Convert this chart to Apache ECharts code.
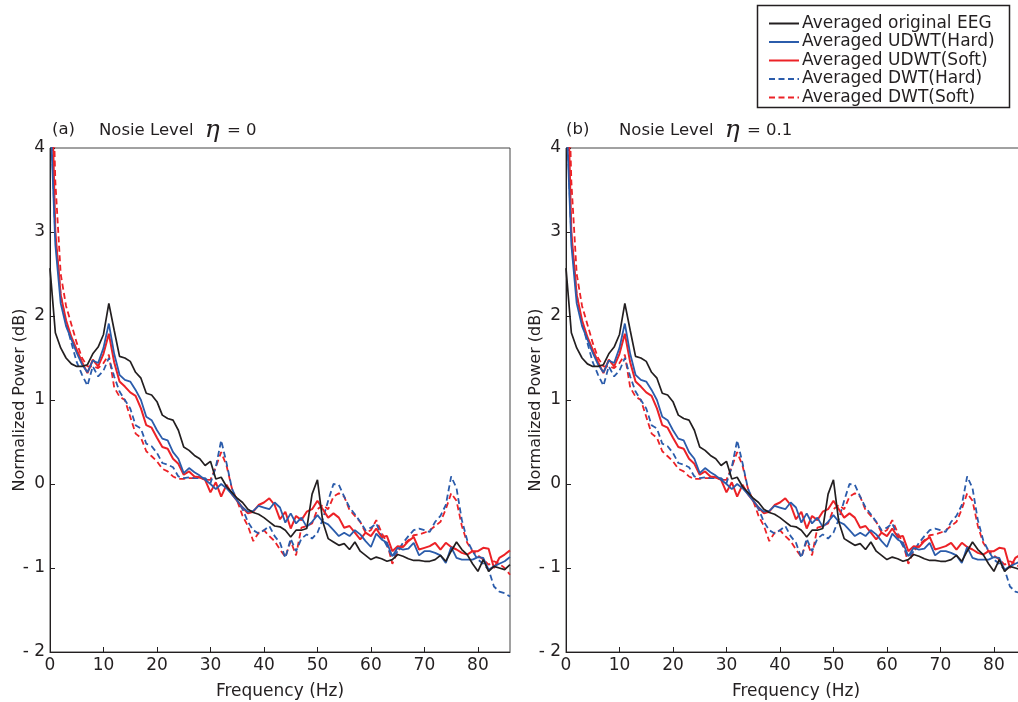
<!DOCTYPE html>
<html><head><meta charset="utf-8">
<script src="https://cdn.jsdelivr.net/npm/echarts@6/dist/echarts.min.js"></script>
<style>html,body{margin:0;padding:0;background:#fff}#c{width:1018px;height:702px}</style>
</head><body><div id="c"></div>
<script>
// Frequency bins (Hz)
const freqHz = [0,1,2,3,4,5,6,7,8,9,10,11,12,13,14,15,16,17,18,19,20,21,22,23,24,25,26,27,28,29,30,31,32,33,34,35,36,37,38,39,40,41,42,43,44,45,46,47,48,49,50,51,52,53,54,55,56,57,58,59,60,61,62,63,64,65,66,67,68,69,70,71,72,73,74,75,76,77,78,79,80,81,82,83,84,85,86];
const xTicks = [0,10,20,30,40,50,60,70,80];
const yTicks = [-2,-1,0,1,2,3,4];

const originalEEG = [2.57,1.80,1.62,1.50,1.43,1.40,1.40,1.42,1.55,1.63,1.78,2.15,1.83,1.52,1.50,1.46,1.33,1.26,1.08,1.06,0.98,0.82,0.78,0.76,0.64,0.44,0.40,0.34,0.30,0.22,0.27,0.06,0.08,-0.03,-0.10,-0.17,-0.22,-0.30,-0.34,-0.36,-0.40,-0.45,-0.50,-0.51,-0.55,-0.63,-0.55,-0.55,-0.53,-0.12,0.05,-0.45,-0.65,-0.69,-0.73,-0.71,-0.78,-0.69,-0.80,-0.85,-0.90,-0.87,-0.89,-0.92,-0.90,-0.84,-0.86,-0.89,-0.91,-0.91,-0.92,-0.92,-0.90,-0.85,-0.92,-0.80,-0.69,-0.78,-0.84,-0.95,-1.04,-0.90,-1.04,-0.98,-1.00,-1.02,-0.96];
const udwtHard = [4.5,2.85,2.15,1.88,1.72,1.56,1.42,1.33,1.47,1.44,1.62,1.91,1.55,1.30,1.24,1.22,1.12,1.00,0.80,0.76,0.64,0.54,0.52,0.38,0.30,0.13,0.19,0.14,0.10,0.05,0.00,-0.06,0.00,-0.05,-0.12,-0.20,-0.28,-0.33,-0.32,-0.26,-0.28,-0.30,-0.22,-0.28,-0.46,-0.35,-0.47,-0.40,-0.51,-0.45,-0.37,-0.45,-0.48,-0.55,-0.62,-0.58,-0.62,-0.55,-0.60,-0.68,-0.75,-0.59,-0.66,-0.70,-0.86,-0.76,-0.78,-0.77,-0.70,-0.85,-0.80,-0.80,-0.82,-0.85,-0.94,-0.75,-0.88,-0.90,-0.90,-0.90,-0.87,-0.88,-1.02,-0.98,-0.95,-0.92,-0.87];
const udwtSoft = [5.5,3.00,2.25,1.95,1.75,1.60,1.45,1.32,1.48,1.40,1.55,1.79,1.45,1.22,1.16,1.09,1.05,0.90,0.70,0.67,0.55,0.44,0.42,0.30,0.24,0.11,0.15,0.09,0.08,0.05,-0.10,0.02,-0.15,-0.01,-0.12,-0.20,-0.28,-0.35,-0.33,-0.25,-0.22,-0.17,-0.25,-0.42,-0.33,-0.53,-0.38,-0.43,-0.33,-0.30,-0.20,-0.30,-0.40,-0.35,-0.40,-0.52,-0.50,-0.58,-0.66,-0.58,-0.62,-0.53,-0.63,-0.62,-0.80,-0.74,-0.75,-0.68,-0.63,-0.78,-0.76,-0.74,-0.70,-0.78,-0.70,-0.75,-0.78,-0.82,-0.84,-0.80,-0.80,-0.76,-0.77,-1.00,-0.88,-0.84,-0.79];
const dwtHard = [4.6,2.95,2.25,1.92,1.68,1.45,1.30,1.17,1.40,1.28,1.35,1.50,1.28,1.10,1.00,0.90,0.70,0.66,0.48,0.45,0.37,0.25,0.23,0.20,0.09,0.07,0.08,0.07,0.07,0.07,0.01,0.20,0.52,0.25,-0.05,-0.20,-0.30,-0.45,-0.55,-0.59,-0.55,-0.50,-0.62,-0.70,-0.88,-0.65,-0.80,-0.65,-0.60,-0.65,-0.58,-0.42,-0.20,0.00,-0.01,-0.15,-0.28,-0.36,-0.45,-0.55,-0.52,-0.47,-0.62,-0.74,-0.87,-0.80,-0.70,-0.62,-0.55,-0.53,-0.55,-0.57,-0.45,-0.38,-0.25,0.09,-0.05,-0.43,-0.67,-0.80,-0.90,-0.95,-1.02,-1.22,-1.28,-1.30,-1.34];
const dwtSoft = [6.0,3.60,2.50,2.12,1.90,1.68,1.50,1.40,1.40,1.38,1.44,1.54,1.15,1.04,1.00,0.80,0.60,0.55,0.39,0.33,0.27,0.18,0.15,0.09,0.06,0.06,0.07,0.07,0.08,0.05,0.05,0.20,0.38,0.22,-0.05,-0.20,-0.38,-0.50,-0.68,-0.58,-0.55,-0.62,-0.68,-0.78,-0.87,-0.68,-0.85,-0.52,-0.50,-0.47,-0.30,-0.25,-0.30,-0.15,-0.11,-0.15,-0.31,-0.38,-0.45,-0.58,-0.55,-0.43,-0.58,-0.70,-0.95,-0.80,-0.72,-0.67,-0.61,-0.60,-0.58,-0.55,-0.50,-0.45,-0.30,-0.11,-0.20,-0.50,-0.70,-0.80,-0.85,-0.90,-0.96,-0.92,-0.95,-1.00,-1.08];

const seriesNames = ['Averaged original EEG','Averaged UDWT(Hard)','Averaged UDWT(Soft)','Averaged DWT(Hard)','Averaged DWT(Soft)'];
const panelA = [originalEEG, udwtHard, udwtSoft, dwtHard, dwtSoft];
const panelB = [originalEEG, udwtHard, udwtSoft, dwtHard, dwtSoft];

const FONT = 'DejaVu Sans';
const TXT = '#231f20';
const looks = [
  {color:'#231f20', type:'solid', width:1.7},
  {color:'#2b5cab', type:'solid', width:1.8},
  {color:'#ec2227', type:'solid', width:2.0},
  {color:'#2b5cab', type:[6,3.5], width:1.8},
  {color:'#ec2227', type:[6,3.5], width:1.8}
];

function pairs(vals){ return vals.map((v,i)=>[freqHz[i], v]); }

function xAxis(gi){
  return {type:'value', gridIndex:gi, min:0, max:86, interval:10,
    name:'Frequency (Hz)', nameLocation:'middle', nameGap:31, nameMoveOverlap:false,
    nameTextStyle:{fontFamily:FONT, fontSize:17, color:TXT},
    axisLine:{show:true, onZero:false, lineStyle:{color:'#231f20', width:1}},
    axisTick:{show:true, inside:true, length:5, lineStyle:{color:'#231f20'}},
    axisLabel:{fontFamily:FONT, fontSize:17, color:TXT, margin:5, showMaxLabel:false,
      formatter:v=> xTicks.includes(v) ? String(v) : ''},
    splitLine:{show:false}};
}
function yAxis(gi){
  return {type:'value', gridIndex:gi, min:-2, max:4, interval:1,
    name:'Normalized Power (dB)', nameLocation:'middle', nameGap:22, nameMoveOverlap:false,
    nameTextStyle:{fontFamily:FONT, fontSize:16, color:TXT},
    axisLine:{show:true, onZero:false, lineStyle:{color:'#231f20', width:1}},
    axisTick:{show:true, inside:true, length:5, lineStyle:{color:'#231f20'}},
    axisLabel:{fontFamily:FONT, fontSize:17, color:TXT, margin:5,
      formatter:v=> yTicks.includes(v) ? (v<0 ? '- '+Math.abs(v) : String(v)) : ''},
    splitLine:{show:false}};
}

const series = [];
[panelA, panelB].forEach((panel, gi)=>{
  panel.forEach((vals, k)=>{
    series.push({name:seriesNames[k], type:'line', xAxisIndex:gi, yAxisIndex:gi,
      data:pairs(vals), symbol:'none', clip:true, animation:false, z:10-k,
      lineStyle:{color:looks[k].color, type:looks[k].type, width:looks[k].width},
      itemStyle:{color:looks[k].color}});
  });
});

const titleRich = {e:{fontFamily:'DejaVu Serif', fontStyle:'italic', fontSize:25, color:TXT, padding:[0,2,0,6]}};
const tStyle = {fontFamily:FONT, fontSize:16.5, fontWeight:'normal', color:TXT};
const option = {
  backgroundColor:'#fff',
  animation:false,
  grid:[
    {left:50, top:148, width:460, height:504, outerBoundsMode:'none', containLabel:false, show:true, borderColor:'#444', borderWidth:1, backgroundColor:'transparent'},
    {left:566, top:148, width:460, height:504, outerBoundsMode:'none', containLabel:false, show:true, borderColor:'#444', borderWidth:1, backgroundColor:'transparent'}
  ],
  xAxis:[xAxis(0), xAxis(1)],
  yAxis:[yAxis(0), yAxis(1)],
  title:[
    {text:'(a)', left:52, top:121, padding:0, textStyle:tStyle},
    {text:'Nosie Level {e|η} = 0', left:99, top:118, padding:0, textStyle:Object.assign({rich:titleRich}, tStyle)},
    {text:'(b)', left:566, top:121, padding:0, textStyle:tStyle},
    {text:'Nosie Level {e|η} = 0.1', left:619, top:118, padding:0, textStyle:Object.assign({rich:titleRich}, tStyle)}
  ],
  graphic:[
    {type:'rect', z:0, shape:{x:757.5, y:5.5, width:252, height:102}, style:{fill:'#fff', stroke:'#231f20', lineWidth:1.5}}
  ],
  legend:{
    orient:'vertical', left:763, top:10, z:20,
    itemWidth:30, itemHeight:14, itemGap:1.5,
    data:seriesNames,
    itemStyle:{color:'rgba(0,0,0,0)', borderWidth:0, borderColor:'rgba(0,0,0,0)'},
    textStyle:{fontFamily:FONT, fontSize:17, color:TXT, padding:[0,0,0,-2]},
    selectedMode:false
  },
  series
};
const chart = echarts.init(document.getElementById('c'));
chart.setOption(option);
</script></body></html>
